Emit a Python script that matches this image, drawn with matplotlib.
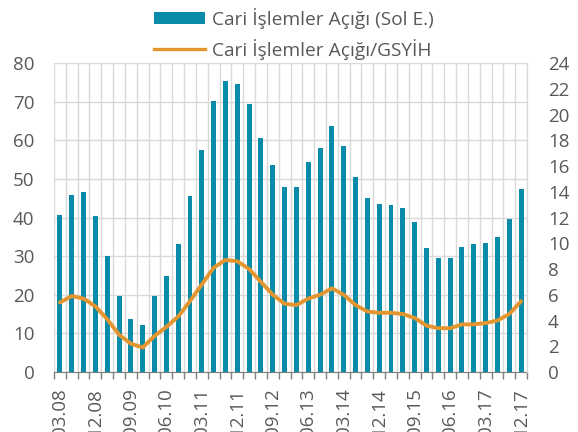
import matplotlib
matplotlib.use("Agg")
import matplotlib.pyplot as plt
from matplotlib.patches import Patch
from matplotlib.lines import Line2D
import numpy as np

plt.rcParams['font.family'] = ['Open Sans', 'DejaVu Sans']

quarters = [f"{m}.{y:02d}" for y in range(8, 18) for m in ["03", "06", "09", "12"]]
deficit = [40.6, 45.7, 46.5, 40.5, 30.0, 19.8, 13.6, 12.2, 19.6, 24.8,
           33.2, 45.5, 57.5, 70.1, 75.3, 74.5, 69.5, 60.6, 53.7, 48.0,
           48.0, 54.4, 58.0, 63.6, 58.4, 50.5, 45.0, 43.6, 43.2, 42.4,
           38.9, 32.1, 29.5, 29.4, 32.4, 33.1, 33.4, 35.0, 39.5, 47.4]
ratio = [5.4, 5.9, 5.7, 5.1, 4.1, 2.9, 2.2, 1.9, 2.8, 3.5,
         4.3, 5.5, 6.8, 8.1, 8.7, 8.6, 8.0, 7.0, 6.0, 5.3,
         5.2, 5.7, 6.0, 6.5, 6.0, 5.2, 4.7, 4.6, 4.6, 4.5,
         4.2, 3.6, 3.4, 3.4, 3.7, 3.7, 3.8, 4.0, 4.5, 5.5]
legend_labels = ["Cari İşlemler Açığı (Sol E.)", "Cari İşlemler Açığı/GSYİH"]

bar_color = "#0A8BAA"
line_color = "#E3952F"
grid_color = "#D9D9D9"
text_color = "#595959"

fig = plt.figure(figsize=(5.78, 4.32), dpi=100)
ax = fig.add_axes([54/578, 1-372/432, (527-54)/578, (372-63)/432])
x = np.arange(len(quarters))

ax.bar(x, deficit, width=0.42, color=bar_color, zorder=3)
ax.set_xlim(-0.5, len(quarters)-0.5)
ax.set_ylim(0, 80)
ax.set_yticks(range(0, 81, 10))
ax.set_xticks(x[::3])
ax.set_xticklabels(quarters[::3], rotation=90, fontsize=13.5, color=text_color)
ax.set_xticks(np.arange(-0.5, len(quarters), 1), minor=True)
ax.tick_params(axis='x', which='major', length=0, pad=11.5)
ax.tick_params(axis='x', which='minor', length=5, color="#7F7F7F", width=1)
ax.tick_params(axis='y', length=0, labelsize=13.5, labelcolor=text_color, pad=14)
ax.grid(True, which='minor', axis='x', color=grid_color, lw=1, zorder=0)
ax.grid(True, which='major', axis='y', color=grid_color, lw=1, zorder=0)
for s in ['top', 'left']:
    ax.spines[s].set_visible(False)
ax.spines['right'].set_color(grid_color)
ax.spines['bottom'].set_color("#7F7F7F")
ax.spines['bottom'].set_zorder(5)

ax2 = ax.twinx()
ax2.plot(x, ratio, color=line_color, lw=2.8, solid_joinstyle='round', solid_capstyle='round', zorder=4)
ax2.set_ylim(0, 24)
ax2.set_yticks(range(0, 25, 2))
ax2.tick_params(axis='y', length=0, labelsize=13.5, labelcolor=text_color, pad=15)
for s in ['top', 'left', 'bottom']:
    ax2.spines[s].set_visible(False)
ax2.spines['right'].set_color(grid_color)

handles = [Patch(facecolor=bar_color, edgecolor='none'),
           Line2D([0], [0], color=line_color, lw=2.4)]
fig.legend(handles, legend_labels, loc='upper left', bbox_to_anchor=(142/578, 1.008),
           frameon=False, fontsize=13.8, labelcolor=text_color,
           handlelength=2.7, handleheight=0.6, handletextpad=0.33, labelspacing=0.5,
           borderaxespad=0.2)

fig.savefig("out.png", dpi=100)
